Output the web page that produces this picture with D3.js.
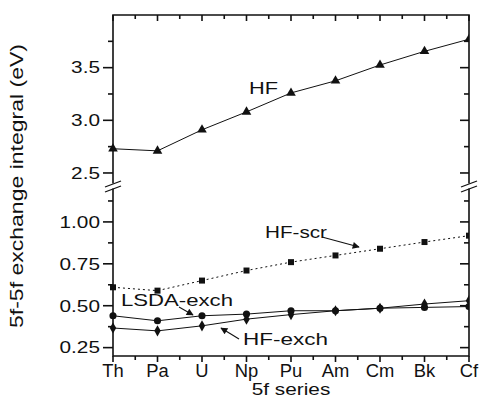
<!DOCTYPE html>
<html>
<head>
<meta charset="utf-8">
<script src="https://cdn.jsdelivr.net/npm/d3@7"></script>
<style>
body{margin:0;background:#fff}
text{font-family:"Liberation Sans",Arial,Helvetica,sans-serif;fill:#111}
</style>
</head>
<body>
<svg width="482" height="398"></svg>
<script>
// data
const elements = ["Th","Pa","U","Np","Pu","Am","Cm","Bk","Cf"]
const hf      = [2.73,2.71,2.91,3.08,3.26,3.375,3.525,3.655,3.77]
const hfScr   = [0.61,0.59,0.65,0.71,0.76,0.80,0.84,0.88,0.918]
const lsdaEx  = [0.44,0.41,0.44,0.45,0.47,0.47,0.485,0.49,0.495]
const hfEx    = [0.367,0.35,0.38,0.42,0.447,0.47,0.485,0.51,0.53]
const upTicks = [2.5,3.0,3.5]
const upMinor = [2.75,3.25,3.75]
const loTicks = [0.25,0.50,0.75,1.00]
const loMinor = [0.375,0.625,0.875,1.125]

const svg=d3.select("svg")
const L=113,R=469,T=15,B=356
const x=d3.scalePoint().domain(elements).range([L,R])
const yU=d3.scaleLinear().domain([2.4,4.0]).range([183.5,T])
const yL=d3.scaleLinear().domain([0.2,1.2]).range([B,188.4])

// frame
const g=svg.append("g").attr("stroke","#111").attr("stroke-width",1.6).attr("fill","none")
g.append("path").attr("d",`M${L},183.5V${T}H${R}V183.5`)
g.append("path").attr("d",`M${L},188.4V${B}H${R}V188.4`)

// break marks
;[L,R].forEach(bx=>{
  g.append("line").attr("x1",bx-8).attr("y1",187).attr("x2",bx+8).attr("y2",181).attr("stroke-width",1.3)
  g.append("line").attr("x1",bx-8).attr("y1",192).attr("x2",bx+8).attr("y2",186).attr("stroke-width",1.3)
})

// text widened like the original (wide Helvetica)
function wtext(t,px,py,fs,sx,anchor){
  return svg.append("text").attr("transform",`translate(${px},${py}) scale(${sx},1)`)
    .attr("text-anchor",anchor||"start").attr("font-size",fs).text(t)
}

// y ticks
function yticks(sc,maj,mnr,fmt){
  maj.forEach(v=>{
    g.append("line").attr("x1",L-10).attr("x2",L).attr("y1",sc(v)).attr("y2",sc(v))
    g.append("line").attr("x1",R-9).attr("x2",R).attr("y1",sc(v)).attr("y2",sc(v))
    wtext(fmt(v),L-13,sc(v)+5.8,16,1.3,"end")
  })
  mnr.forEach(v=>{
    g.append("line").attr("x1",L-5).attr("x2",L).attr("y1",sc(v)).attr("y2",sc(v))
    g.append("line").attr("x1",R-5).attr("x2",R).attr("y1",sc(v)).attr("y2",sc(v))
  })
}
yticks(yU,upTicks,upMinor,d3.format(".1f"))
yticks(yL,loTicks,loMinor,d3.format(".2f"))

// x ticks
const step=x.step()
elements.forEach((e,i)=>{
  const px=x(e)
  g.append("line").attr("x1",px).attr("x2",px).attr("y1",B).attr("y2",B+6)
  g.append("line").attr("x1",px).attr("x2",px).attr("y1",T).attr("y2",T+6)
  if(i<elements.length-1){
    g.append("line").attr("x1",px+step/2).attr("x2",px+step/2).attr("y1",B).attr("y2",B+4)
    g.append("line").attr("x1",px+step/2).attr("x2",px+step/2).attr("y1",T).attr("y2",T+4)
  }
  wtext(e,px,376.5,17.5,1.05,"middle")
})

// clip
svg.append("clipPath").attr("id","cp").append("rect").attr("x",L-8).attr("y",T).attr("width",R-L+8).attr("height",B-T+8)
const plot=svg.append("g").attr("clip-path","url(#cp)")

function series(vals,sc,sym,size,dash){
  const line=d3.line().x((d,i)=>x(elements[i])).y(d=>sc(d))
  plot.append("path").attr("d",line(vals)).attr("fill","none").attr("stroke","#111")
    .attr("stroke-width",1).attr("stroke-dasharray",dash||null)
  plot.selectAll(null).data(vals).join("path")
    .attr("transform",(d,i)=>`translate(${x(elements[i])},${sc(d)})`)
    .attr("d",d3.symbol().type(sym).size(size)).attr("fill","#111")
}
series(hf,yU,d3.symbolTriangle,40)
series(hfScr,yL,d3.symbolSquare,36,"2,3")
series(lsdaEx,yL,d3.symbolCircle,40)
series(hfEx,yL,d3.symbolDiamond,36)

// labels
const lab=(t,px,py,w)=>svg.append("text").attr("x",px).attr("y",py).attr("font-size",16.5)
  .attr("textLength",w).attr("lengthAdjust","spacingAndGlyphs").text(t)
lab("HF",249,94,29)
lab("HF-scr",265,238,62)
lab("LSDA-exch",121,306,112)
lab("HF-exch",243,345,85)

// arrows
svg.append("defs").append("marker").attr("id","ah").attr("viewBox","0 0 10 10")
  .attr("refX",9).attr("refY",5).attr("markerWidth",9).attr("markerHeight",7)
  .attr("orient","auto").attr("markerUnits","userSpaceOnUse")
  .append("path").attr("d","M0,0L10,5L0,10z").attr("fill","#111")
const arrow=(x1,y1,x2,y2)=>svg.append("line").attr("x1",x1).attr("y1",y1).attr("x2",x2).attr("y2",y2)
  .attr("stroke","#111").attr("stroke-width",1.1).attr("marker-end","url(#ah)")
arrow(322,237,359,247)
arrow(179,307,193,315)
arrow(239,339,221,328)

// axis titles
wtext("5f series",291,395,16,1.3,"middle")
svg.append("text").attr("transform","translate(23,186) rotate(-90)").attr("text-anchor","middle")
  .attr("font-size",18).attr("textLength",284).attr("lengthAdjust","spacingAndGlyphs")
  .text("5f-5f exchange integral (eV)")
</script>
</body>
</html>
